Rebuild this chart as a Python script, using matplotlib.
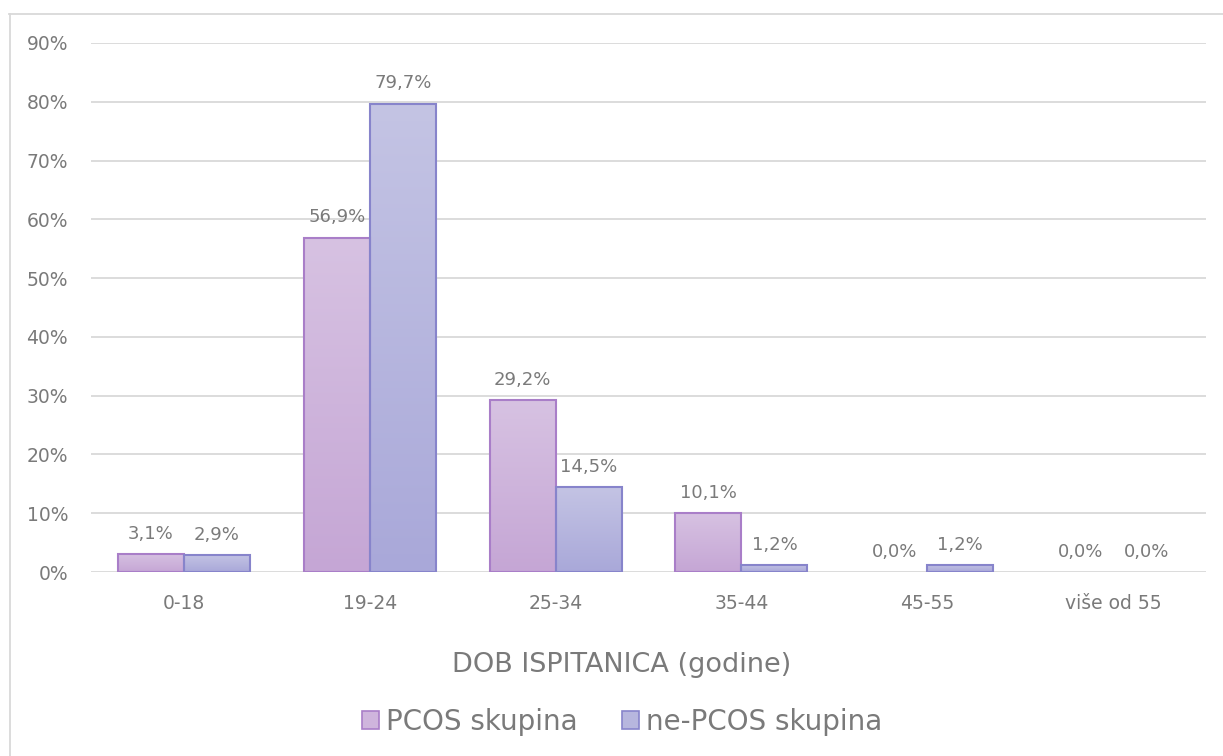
import numpy as np
import matplotlib
matplotlib.use("Agg")
import matplotlib.pyplot as plt
from matplotlib.colors import LinearSegmentedColormap
from matplotlib.patches import Patch
from matplotlib.lines import Line2D

categories = ["0-18", "19-24", "25-34", "35-44", "45-55", "više od 55"]
pcos = [3.1, 56.9, 29.2, 10.1, 0.0, 0.0]
ne_pcos = [2.9, 79.7, 14.5, 1.2, 1.2, 0.0]
series_names = ["PCOS skupina", "ne-PCOS skupina"]
yticks = [0, 10, 20, 30, 40, 50, 60, 70, 80, 90]

plt.rcParams["font.family"] = ["DejaVu Sans"]
TEXT = "#7a7a7a"
GRID = "#d9d9d9"

fig = plt.figure(figsize=(12.23, 7.56), dpi=100)
W, H = 1223, 756
ax = fig.add_axes([91 / W, 1 - 572 / H, 1115 / W, 529 / H])

# outer chart frame (top and left edges)
fig.add_artist(Line2D([9 / W, 1.0], [1 - 14 / H, 1 - 14 / H], color=GRID, lw=1.3))
fig.add_artist(Line2D([9.5 / W, 9.5 / W], [0, 1 - 14 / H], color=GRID, lw=1.3))

for s in ax.spines.values():
    s.set_visible(False)
ax.set_yticks(yticks)
ax.set_yticklabels([f"{v}%" for v in yticks])
ax.yaxis.grid(True, color=GRID, lw=1.3)
ax.set_axisbelow(True)
ax.tick_params(axis="both", length=0, colors=TEXT, labelsize=13.5)
ax.tick_params(axis="y", pad=16.5)
ax.tick_params(axis="x", pad=15.5)
ax.set_xticks(range(len(categories)))
ax.set_xticklabels(categories)

bw = 0.355
x = np.arange(len(categories))
styles = [
    (pcos, -bw / 2, ("#d7c2e2", "#c5a6d5"), "#a97ec8"),
    (ne_pcos, bw / 2, ("#c4c4e4", "#a9a8d9"), "#8784cb"),
]

grad = np.linspace(1, 0, 256).reshape(-1, 1)
for vals, off, (ctop, cbot), edge in styles:
    cmap = LinearSegmentedColormap.from_list("g", [cbot, ctop])
    edges = [edge if v > 0 else "none" for v in vals]
    bars = ax.bar(x + off, vals, bw, facecolor="none", edgecolor=edges, lw=1.5, zorder=3)
    for b, v in zip(bars, vals):
        if v > 0:
            x0, x1 = b.get_x(), b.get_x() + b.get_width()
            im = ax.imshow(grad, cmap=cmap, aspect="auto", extent=[x0, x1, 0, v],
                           vmin=0, vmax=1, zorder=2, interpolation="bilinear")
            im.set_clip_path(b)
        ax.annotate(f"{v:.1f}%".replace(".", ","), (b.get_x() + b.get_width() / 2, v),
                    xytext=(0, 8), textcoords="offset points", ha="center", va="bottom",
                    color=TEXT, fontsize=13, zorder=4)

ax.set_xlim(-0.5, len(categories) - 0.5)
ax.set_ylim(0, 90)

center_x = 622 / W
fig.text(center_x, 1 - 665 / H, "DOB ISPITANICA (godine)", ha="center",
         va="center", color=TEXT, fontsize=19.5)

handles = [Patch(facecolor="#cfb5dd", edgecolor="#a97ec8", lw=1.2),
           Patch(facecolor="#b7b6de", edgecolor="#8784cb", lw=1.2)]
leg = fig.legend(handles, series_names, loc="center", bbox_to_anchor=(center_x, 1 - 722 / H),
                 ncol=2, frameon=False, fontsize=20, labelcolor=TEXT, handlelength=0.6,
                 handleheight=0.6, handletextpad=0.25, columnspacing=1.6)

fig.savefig("out.png", dpi=100, facecolor="white")
